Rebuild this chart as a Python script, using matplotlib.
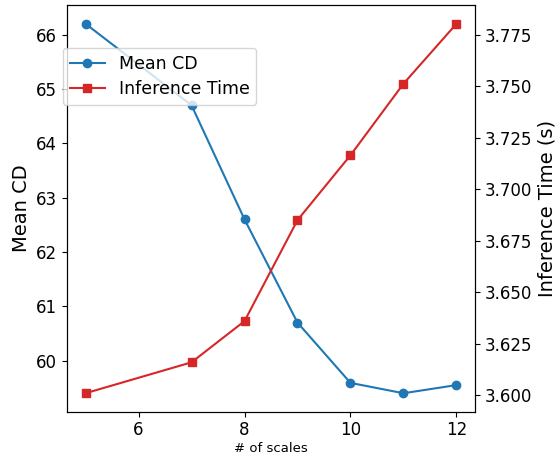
import matplotlib
matplotlib.use("Agg")
import matplotlib.pyplot as plt

scales = [5, 7, 8, 9, 10, 11, 12]
mean_cd = [66.2, 64.7, 62.6, 60.7, 59.59, 59.4, 59.55]
inf_time = [3.601, 3.616, 3.636, 3.685, 3.7165, 3.7512, 3.7803]
x_ticks = [6, 8, 10, 12]
time_ticks = [3.600, 3.625, 3.650, 3.675, 3.700, 3.725, 3.750, 3.775]

fig = plt.figure(figsize=(5.58, 4.54), dpi=100)
ax1 = fig.add_axes([67/558, 1-411.7/454, (475-67)/558, (411.7-5.3)/454])
ax2 = ax1.twinx()

l1, = ax1.plot(scales, mean_cd, marker='o', color='#1f77b4', label='Mean CD')
l2, = ax2.plot(scales, inf_time, marker='s', color='#d62728', label='Inference Time')

ax1.set_xticks(x_ticks)
ax1.set_xlabel('# of scales', fontsize=9.5, labelpad=2)
ax1.set_ylabel('Mean CD', fontsize=14)
ax2.set_ylabel('Inference Time (s)', fontsize=14)
ax1.tick_params(labelsize=12)
ax2.tick_params(labelsize=12)
ax2.set_yticks(time_ticks)
ax2.set_yticklabels(['%.3f' % v for v in time_ticks])

ax2.legend(handles=[l1, l2], loc='upper left', fontsize=12.5, labelspacing=0.4,
           bbox_to_anchor=(63/558, 1-48/454), bbox_transform=fig.transFigure,
           borderaxespad=0)

fig.savefig('out.png', dpi=100)
